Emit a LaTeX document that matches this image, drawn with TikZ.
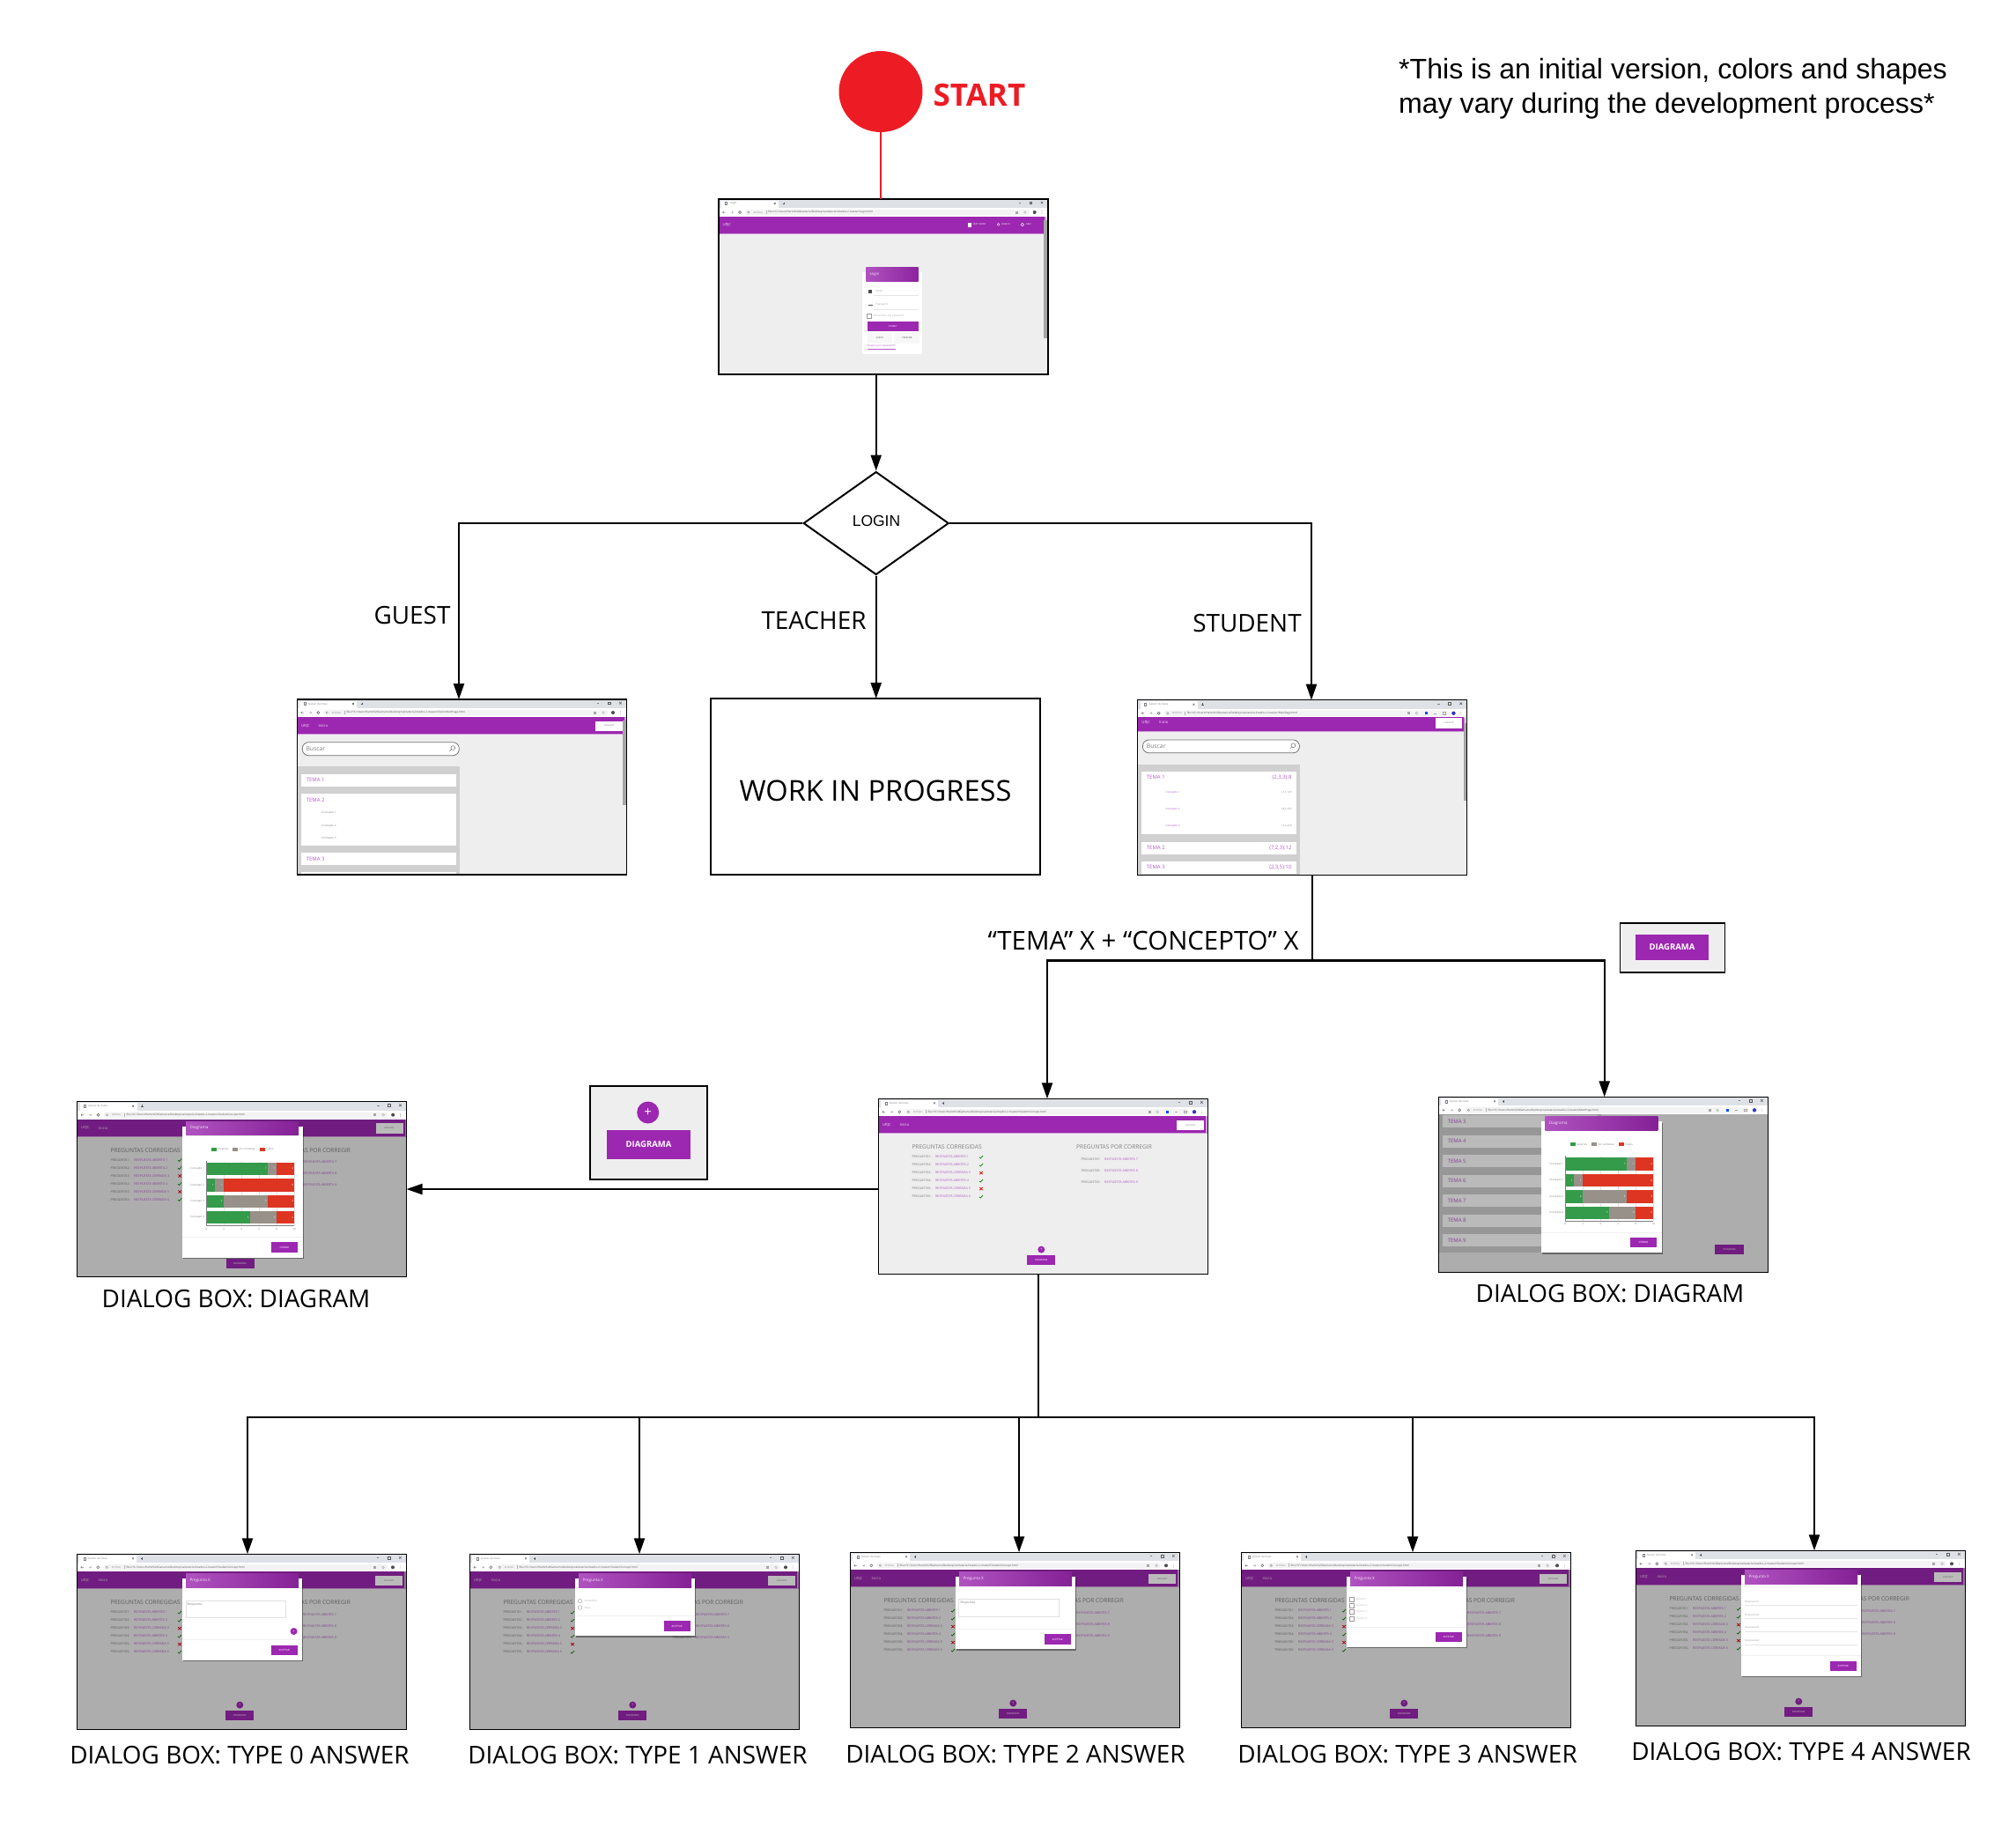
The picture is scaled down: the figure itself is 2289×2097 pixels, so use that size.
\documentclass[tikz,border=0pt]{standalone}
\usepackage{fontspec}
\setmainfont{Liberation Sans}
\newfontfamily\uifont{Open Sans}
\usetikzlibrary{arrows.meta,shapes.geometric,calc}
\definecolor{pur}{HTML}{9C27B0}
\definecolor{purL}{HTML}{B25CC4}
\definecolor{tabc}{HTML}{DEE1E6}
\definecolor{bodyc}{HTML}{EEEEEE}
\definecolor{panelc}{HTML}{D0D0D0}
\definecolor{uigray}{HTML}{808080}
\definecolor{barG}{HTML}{339B4A}
\definecolor{barS}{HTML}{979189}
\definecolor{barR}{HTML}{DD3522}
\definecolor{startred}{HTML}{ED1C24}
\newcount\txn
\newcommand\fsz[1]{\fontsize{#1}{#1}\selectfont}
% x, y, anchor, size, colour, text
\newcommand\tx[6]{\global\advance\txn by 1\relax
  \node[inner sep=0pt,anchor=#3,text=#5,font=\uifont\fsz{#4}] (tx\the\txn) at (#1,#2) {#6};}
\newcommand\scr[4]{\begin{scope}[shift={(#2,#3)}]#4
  \node[screenbox] (#1) at (187,99.5) {};\end{scope}}
\newcommand\chromeicons{%
  \fill[gray!70] (336.5,13.5) rectangle (339.5,16.5);
  \draw[gray!70,line width=.4pt] (347.7,15) circle (1.4);
  \fill[black!70] (358.7,15) circle (2);
  \fill[gray] (367,13.5) circle (.3) (367,15) circle (.3) (367,16.5) circle (.3);}
\newcommand\chromeext{%
  \fill[gray!70] (306.2,13.5) rectangle (309.2,16.5);
  \draw[gray!70,line width=.4pt] (316.7,15) circle (1.4);
  \fill[blue!70!cyan] (326.5,13.5) rectangle (329.5,16.5);
  \draw[gray!70,line width=.4pt] (336.5,15) -- (339.5,15);
  \draw[gray!70,line width=.4pt] (346.5,13.7) rectangle (349.5,16.3);
  \fill[blue!60!gray] (358.7,15) circle (2.2);
  \fill[gray] (367,13.5) circle (.3) (367,15) circle (.3) (367,16.5) circle (.3);}
% title, url file, icons
\newcommand\chrome[3]{%
  \fill[white] (0,0) rectangle (374,20);
  \fill[tabc] (0,0) rectangle (374,10);
  \fill[white] (3,1.5) rectangle (68,10);
  \draw[gray,line width=.4pt] (7.5,3.5) rectangle (9.5,6.5);
  \tx{12.7}{5}{west}{3}{gray}{#1}
  \draw[gray!70!black,line width=.4pt] (62.7,4) -- (64.7,6) (62.7,6) -- (64.7,4);
  \draw[gray!70!black,line width=.4pt] (72.5,5) -- (75,5) (73.7,3.7) -- (73.7,6.3);
  \draw[gray,line width=.4pt] (340.5,4) -- (343,4);
  \draw[gray!70!black,line width=.5pt] (353,3) rectangle (355.5,5.5);
  \draw[gray!70!black,line width=.5pt] (365.7,2.8) -- (368.3,5.4) (365.7,5.4) -- (368.3,2.8);
  \fill[bodyc!70!white,rounded corners=3pt] (30,11.8) rectangle (352.7,18.4);
  \draw[gray,line width=.5pt] (4.5,15) -- (7.5,15) (4.5,15) -- (5.8,13.8) (4.5,15) -- (5.8,16.2);
  \draw[gray!60,line width=.5pt] (13.5,15) -- (16.5,15) (16.5,15) -- (15.2,13.8) (16.5,15) -- (15.2,16.2);
  \draw[gray!70!black,line width=.5pt] (24,15) circle (1.5);
  \draw[gray,line width=.3pt] (34,15) circle (1.2);
  \tx{39.3}{15}{west}{3}{gray!90}{Archivo}
  \draw[gray!60,line width=.3pt] (53.7,13) -- (53.7,17);
  \tx{56}{15}{west}{3.05}{black!65}{file:///C:/Users/Haritz\%20Gamarra/Desktop/santatecla-listados-2-master/#2}
  #3}
\newcommand\navbar{%
  \fill[pur!45] (0,20) rectangle (374,40);
  \fill[pur] (0,20) rectangle (372,39);
  \fill[white] (339,24.5) rectangle (370,36);
  \tx{4.5}{30}{west}{4.3}{white!85!pur}{URJC}
  \tx{24}{30}{west}{4.3}{white!85!pur}{Inicio}
  \tx{354.5}{30}{center}{2.6}{black!55}{LOG OUT}}
\newcommand\chk[2]{\draw[green!50!black,line width=.7pt] (#1-2,#2+.2) -- (#1-.7,#2+1.4) -- (#1+2,#2-1.6);}
\newcommand\crs[2]{\draw[red!85!black,line width=.7pt] (#1-1.8,#2-1.6) -- (#1+1.8,#2+1.6) (#1-1.8,#2+1.6) -- (#1+1.8,#2-1.6);}
\newcommand\qrow[5]{\tx{38}{#1}{west}{3.7}{uigray}{PREGUNTA#2:}
  \tx{64.7}{#1}{west}{3.7}{purL}{RESPUESTA #3}
  #4{116.7}{#1}}
\newcommand\prow[3]{\tx{230}{#1}{west}{3.7}{uigray}{PREGUNTA#2:}
  \tx{256.7}{#1}{west}{3.7}{purL}{RESPUESTA ABIERTA #3}}
\newcommand\conceptbody{%
  \fill[bodyc] (0,20) rectangle (374,199);
  \navbar
  \tx{38}{55}{west}{6.6}{uigray}{PREGUNTAS CORREGIDAS}
  \qrow{66.3}{1}{ABIERTA 1}{\chk}{}
  \qrow{75.3}{2}{ABIERTA 2}{\chk}{}
  \qrow{84.3}{3}{CERRADA 3}{\crs}{}
  \qrow{93.3}{4}{ABIERTA 4}{\chk}{}
  \qrow{102.3}{5}{CERRADA 5}{\crs}{}
  \qrow{111.3}{5}{CERRADA 6}{\chk}{}
  \tx{224.7}{55}{west}{6.6}{uigray}{PREGUNTAS POR CORREGIR}
  \prow{68.7}{7}{7}
  \prow{81.7}{8}{8}
  \prow{94.7}{9}{9}
  \fill[pur] (185,171.3) circle (4);
  \tx{185}{171.3}{center}{4}{white}{+}
  \fill[pur] (169,178) rectangle (201,189);
  \tx{185}{183.5}{center}{2.8}{white}{DIAGRAMA}}
\newcommand\dimmer{\fill[black,opacity=.27] (0,20) rectangle (374,199);}
% card bottom, title
\newcommand\dlg[2]{%
  \fill[black,opacity=.4] (120.3,30) rectangle (257,#1+1.3);
  \fill[white] (119.3,28) rectangle (256,#1);
  \fill[black!10] (124.2,38) rectangle (251.7,38.8);
  \shade[left color=pur!80,right color=pur!85!black] (123.7,22.5) rectangle (251.7,38);
  \tx{128}{30}{west}{4.6}{white!90!pur}{#2}}
% sep y, button top, label
\newcommand\dlgfoot[3]{%
  \draw[black!6,line width=.5pt] (119.3,#1) -- (256,#1);
  \fill[pur] (220.3,#2) rectangle (250.5,#2+11.3);
  \tx{235.4}{#2+5.7}{center}{2.9}{white}{#3}}
\newcommand\plotbars[5]{%
  \fill[barG] (146.7,#1) rectangle ++(#2*10,14.3);
  \fill[barS] (146.7+#2*10,#1) rectangle ++(#3*10,14.3);
  \fill[barR] (146.7+#2*10+#3*10,#1) rectangle ++(#4*10,14.3);
  \tx{144.7}{#1+7}{east}{3}{uigray}{Concepto #5}
  \tx{146.7+#2*10-1.5}{#1+7}{east}{3}{white}{#2}
  \tx{146.7+#2*10+#3*10-1.5}{#1+7}{east}{3}{white}{#3}
  \tx{245.7}{#1+7}{east}{3}{white}{#4}}
\newcommand\diagramdlg{%
  \dlg{177}{Diagrama}
  \fill[barG] (152,52) rectangle (158.7,56);
  \tx{160}{54}{west}{3}{uigray}{Aciertos}
  \fill[barS] (176,52) rectangle (182.7,56);
  \tx{184}{54}{west}{3}{uigray}{Sin contestar}
  \fill[barR] (207,52) rectangle (213.7,56);
  \tx{215}{54}{west}{3}{uigray}{Fallos}
  \draw[black!12,line width=.3pt] (166.7,68) -- (166.7,140.7) (186.7,68) -- (186.7,140.7) (206.7,68) -- (206.7,140.7) (226.7,68) -- (226.7,140.7) (246.7,68) -- (246.7,140.7);
  \plotbars{69}{7}{1}{2}{1}
  \plotbars{87.7}{1}{1}{8}{2}
  \plotbars{106}{2}{5}{3}{3}
  \plotbars{124.3}{5}{3}{2}{4}
  \draw[black!50,line width=.3pt] (146.7,67) -- (146.7,140.7) -- (246.7,140.7);
  \tx{146.7}{144.3}{center}{3}{uigray}{0}
  \tx{166.7}{144.3}{center}{3}{uigray}{2}
  \tx{186.7}{144.3}{center}{3}{uigray}{4}
  \tx{206.7}{144.3}{center}{3}{uigray}{6}
  \tx{226.7}{144.3}{center}{3}{uigray}{8}
  \tx{246.7}{144.3}{center}{3}{uigray}{10}
  \dlgfoot{153.7}{159.7}{CERRAR}}
\newcommand\temarow[3]{%
  \fill[white] (4.7,#1) rectangle (180.7,#1+#2);
  \tx{10.3}{#1+7}{west}{6}{purL}{#3}}
\tikzset{
  x=1pt,y=-1pt,
  screenbox/.style={draw=black,line width=1.5pt,minimum width=374pt,minimum height=199pt,inner sep=0pt,outer sep=0pt},
  flowlabel/.style={font=\uifont\fsz{27.9},text=black,inner sep=0pt},
  notelabel/.style={font=\fsz{32.1},text=black,inner sep=0pt,align=left,anchor=north west},
  conn/.style={draw=black,line width=2.2pt},
  arr/.style={conn,-{Triangle[length=18pt,width=12pt]}},
  smallbtn/.style={fill=pur,draw=none,inner sep=0pt,text=white,font=\uifont\bfseries\fsz{9.5}},
  framebox/.style={draw=black,line width=1.3pt,fill=bodyc,inner sep=0pt,outer sep=0pt},
}
\begin{document}
\begin{tikzpicture}
\useasboundingbox (0,0) rectangle (2289,2097);
\fill[white] (0,0) rectangle (2289,2097);

% start
\node[ellipse,fill=startred,minimum width=95pt,minimum height=92pt,inner sep=0pt] (start) at (1000,104) {};
\node[font=\uifont\bfseries\fsz{35},text=startred,inner sep=0pt] (starttxt) at (1112,108) {START};
\node[notelabel] (note) at (1588,66) {*This is an initial version, colors and shapes\\[7pt]may vary during the development process*};

% LOGIN screen
\scr{login}{816}{226}{
  \fill[bodyc] (0,0) rectangle (374,199);
  \chrome{Login}{Login.html}{\chromeicons}
  \fill[pur!45] (0,20) rectangle (372,39.5);
  \fill[pur] (0,19.5) rectangle (370,38.7);
  \tx{4.3}{29}{west}{4.3}{white!85!pur}{URJC}
  \fill[white] (282.5,27) rectangle (286.5,31.5);
  \tx{288.3}{29}{west}{2.6}{white}{NEXT EVENT}
  \draw[white,line width=.4pt] (317.7,28.8) circle (1.4);
  \tx{321}{29}{west}{2.6}{white}{SEARCH}
  \draw[white,line width=.4pt] (344.7,29) circle (1.8);
  \tx{348.7}{29}{west}{2.6}{white}{HELP}
  \fill[black!35] (369.3,24) rectangle (373,158);
  \fill[white] (163,83) rectangle (231.3,175.7);
  \shade[left color=pur!80,right color=pur!90!black] (167.3,77.3) rectangle (226.7,93);
  \tx{171.3}{85}{west}{4.3}{white!90!pur}{Login}
  \fill[black!70] (170.3,103) rectangle (174,106.5);
  \tx{178.3}{104}{west}{3}{black!35}{Email}
  \draw[black!10,line width=.4pt] (176,108.7) -- (226.7,108.7);
  \fill[black!70] (169.5,119.5) rectangle (175,121);
  \tx{178.3}{119.7}{west}{3}{black!35}{Password}
  \draw[black!10,line width=.4pt] (176,124.7) -- (226.7,124.7);
  \draw[black!40,line width=.4pt] (168,129.7) rectangle (173.3,135);
  \tx{175.3}{132.5}{west}{3}{black!30}{Remember my password}
  \fill[pur] (168.7,138.7) rectangle (226.7,150.3);
  \tx{197.7}{144.5}{center}{2.6}{white}{SUBMIT}
  \fill[black!3] (168.7,152) rectangle (197,164);
  \fill[black!3] (199,152) rectangle (228,164);
  \tx{183}{158}{center}{2.6}{black!70}{GUEST}
  \tx{214}{158}{center}{2.6}{black!70}{TEACHER}
  \tx{168.7}{168}{west}{3}{purL}{\underline{Forgot your password?}}
}

% GUEST screen
\scr{guest}{337.3}{794}{
  \fill[bodyc] (0,0) rectangle (374,199);
  \chrome{Gestor de listas}{VisitorMainPage.html}{\chromeicons}
  \navbar
  \fill[black!35] (370,24) rectangle (374,120);
  \draw[fill=white,draw=black!55,line width=.8pt,rounded corners=7pt] (6,48.7) rectangle (184,63.7);
  \tx{10}{56.2}{west}{6.8}{uigray}{Buscar}
  \draw[black!60,line width=.5pt] (177,55) circle (2.4) (175.3,56.7) -- (173.3,58.7);
  \fill[panelc] (0,76.3) rectangle (185,199);
  \temarow{84.7}{14.6}{TEMA 1}
  \temarow{107.3}{58.7}{TEMA 2}
  \tx{27.7}{128.7}{west}{3.1}{uigray}{Concepto 1}
  \tx{27.7}{143.3}{west}{3.1}{uigray}{Concepto 2}
  \tx{27.7}{158}{west}{3.1}{uigray}{Concepto 3}
  \temarow{174}{14.3}{TEMA 3}
  \fill[white] (4.7,196.3) rectangle (180.7,198.6);
}

% WORK IN PROGRESS
\node[screenbox,minimum width=374pt,minimum height=200pt] (wip) at (994,893) {};
\node[font=\uifont\fsz{32.6},inner sep=0pt] (wiptxt) at (994,898) {WORK IN PROGRESS};

% STUDENT screen
\scr{student}{1291.7}{794.7}{
  \fill[bodyc] (0,0) rectangle (374,199);
  \chrome{Gestor de listas}{MainPage.html}{\chromeext}
  \fill[pur!45] (0,20) rectangle (372,36);
  \fill[pur] (0,19.3) rectangle (370,35.3);
  \fill[white] (338.7,20) rectangle (368.3,32);
  \tx{4.5}{25.7}{west}{4.3}{white!85!pur}{URJC}
  \tx{24}{25.7}{west}{4.3}{white!85!pur}{Inicio}
  \tx{353.5}{26}{center}{2.6}{black!55}{LOG OUT}
  \fill[black!35] (370,26) rectangle (374,114);
  \draw[fill=white,draw=black!55,line width=.8pt,rounded corners=7pt] (5.7,45.3) rectangle (183.7,60);
  \tx{10}{52.7}{west}{6.8}{uigray}{Buscar}
  \draw[black!60,line width=.5pt] (176.7,51.5) circle (2.4) (175,53.2) -- (173,55.2);
  \fill[panelc] (0,73.3) rectangle (184.7,199);
  \fill[white] (4.3,81.3) rectangle (180.3,152.3);
  \tx{10}{87.7}{west}{6}{purL}{TEMA 1}
  \tx{175}{87.7}{east}{6}{purL}{(2,3,3):8}
  \tx{31.7}{104.7}{west}{3}{purL}{Concepto 1}
  \tx{175}{104.7}{east}{3}{uigray}{(1,1,1):3}
  \tx{31.7}{123.7}{west}{3}{purL}{Concepto 2}
  \tx{175}{123.7}{east}{3}{uigray}{(0,1,2):3}
  \tx{31.7}{142.7}{west}{3}{purL}{Concepto 3}
  \tx{175}{142.7}{east}{3}{uigray}{(1,1,2):4}
  \fill[white] (4.3,161) rectangle (180.3,175);
  \tx{10}{168}{west}{6}{purL}{TEMA 2}
  \tx{175}{168}{east}{6}{purL}{(7,2,3):12}
  \fill[white] (4.3,183) rectangle (180.3,197.3);
  \tx{10}{190}{west}{6}{purL}{TEMA 3}
  \tx{175}{190}{east}{6}{purL}{(2,3,5):10}
}

% DIAGRAMA key (upper)
\node[framebox,minimum width=119pt,minimum height=56pt] (keyupper) at (1899,1076) {};
\node[smallbtn,minimum width=83pt,minimum height=29pt] (keyupperbtn) at (1898.5,1075.5) {DIAGRAMA};

% CONCEPT key
\node[framebox,minimum width=133pt,minimum height=106pt] (keylower) at (736.5,1286) {};
\node[circle,fill=pur,minimum size=25pt,inner sep=0pt,text=white,font=\uifont\fsz{15}] (keypl) at (735.7,1263) {+};
\node[smallbtn,minimum width=95pt,minimum height=33pt] (keylowerbtn) at (736.5,1299.5) {DIAGRAMA};

% CONCEPT screen
\scr{concept}{997.3}{1247.3}{
  \chrome{Gestor de listas}{StudentConcept.html}{\chromeext}
  \conceptbody
}

% left DIALOG: diagram
\scr{dlgleft}{87.5}{1250.7}{
  \chrome{Gestor de listas}{StudentConcept.html}{\chromeicons}
  \conceptbody
  \dimmer
  \diagramdlg
}

% right DIALOG: diagram
\scr{dlgright}{1633.3}{1245.3}{
  \chrome{Gestor de listas}{MainPage.html}{\chromeext}
  \fill[bodyc] (0,20) rectangle (374,199);
  \fill[panelc] (0,20) rectangle (185,177);
  \temarow{21}{14}{TEMA 3}
  \temarow{43.5}{14}{TEMA 4}
  \temarow{66}{14}{TEMA 5}
  \temarow{88.5}{14}{TEMA 6}
  \temarow{111}{14}{TEMA 7}
  \temarow{133.5}{14}{TEMA 8}
  \temarow{156}{14}{TEMA 9}
  \fill[pur] (314,168) rectangle (347,179);
  \tx{330.5}{173.5}{center}{2.8}{white}{DIAGRAMA}
  \dimmer
  \begin{scope}[shift={(-2.7,0)}]
  \diagramdlg
  \end{scope}
}

% answer types
\scr{typezero}{87.3}{1764.3}{
  \chrome{Gestor de listas}{StudentConcept.html}{\chromeicons}
  \conceptbody
  \dimmer
  \dlg{120.7}{Pregunta X}
  \draw[fill=white,draw=black!12,line width=.5pt] (123.7,53) rectangle (237,72.3);
  \tx{125}{57}{west}{3.5}{uigray}{Respuesta}
  \fill[pur] (246.3,87.7) circle (4);
  \tx{246.3}{87.7}{center}{4}{white}{+}
  \dlgfoot{97}{103.3}{ACEPTAR}
}
\scr{typeone}{533.3}{1764.3}{
  \chrome{Gestor de listas}{StudentConcept.html}{\chromeicons}
  \conceptbody
  \dimmer
  \dlg{93}{Pregunta X}
  \draw[black!40,line width=.4pt] (125.3,53.3) circle (2.3) (125.3,60.7) circle (2.3);
  \tx{130}{53.3}{west}{3}{black!30}{Verdadero}
  \tx{130}{60.7}{west}{3}{black!30}{Falso}
  \dlgfoot{70}{76}{ACEPTAR}
}
\scr{typetwo}{965.3}{1762.3}{
  \chrome{Gestor de listas}{StudentConcept.html}{\chromeicons}
  \conceptbody
  \dimmer
  \dlg{110}{Pregunta X}
  \draw[fill=white,draw=black!12,line width=.5pt] (123.3,53) rectangle (237,73);
  \tx{125}{57}{west}{3.5}{uigray}{Respuesta}
  \dlgfoot{87}{93}{ACEPTAR}
}
\scr{typethree}{1409.3}{1762.3}{
  \chrome{Gestor de listas}{StudentConcept.html}{\chromeicons}
  \conceptbody
  \dimmer
  \dlg{107.7}{Pregunta X}
  \draw[black!40,line width=.4pt] (123.3,50.5) rectangle (128.3,55.5);
  \draw[black!40,line width=.4pt] (123.3,57.8) rectangle (128.3,62.8);
  \draw[black!40,line width=.4pt] (123.3,65.2) rectangle (128.3,70.2);
  \draw[black!40,line width=.4pt] (123.3,72.5) rectangle (128.3,77.5);
  \tx{130.7}{53}{west}{2.8}{black!30}{Opción 1}
  \tx{130.7}{60.3}{west}{2.8}{black!30}{Opción 2}
  \tx{130.7}{67.7}{west}{2.8}{black!30}{Opción 3}
  \tx{130.7}{75}{west}{2.8}{black!30}{Opción 4}
  \dlgfoot{85}{90.7}{ACEPTAR}
}
\scr{typefour}{1857.3}{1760.3}{
  \chrome{Gestor de listas}{StudentConcept.html}{\chromeicons}
  \conceptbody
  \dimmer
  \dlg{142.3}{Pregunta X}
  \tx{123.7}{58}{west}{3}{black!35}{Respuesta1}
  \draw[black!10,line width=.5pt] (123.7,62) -- (251.3,62);
  \tx{123.7}{73}{west}{3}{black!35}{Respuesta2}
  \draw[black!10,line width=.5pt] (123.7,77) -- (251.3,77);
  \tx{123.7}{87.7}{west}{3}{black!35}{Respuesta3}
  \draw[black!10,line width=.5pt] (123.7,92) -- (251.3,92);
  \tx{123.7}{102.3}{west}{3}{black!35}{Respuesta4}
  \draw[black!10,line width=.5pt] (123.7,107) -- (251.3,107);
  \dlgfoot{119}{125.3}{ACEPTAR}
}

% decision
\node[diamond,draw=black,line width=2pt,fill=white,minimum width=165pt,minimum height=117pt,inner sep=0pt] (decision) at (994.7,594) {};
\node[font=\fsz{17.5},inner sep=0pt] (decisiontxt) at (995,591) {LOGIN};

% labels
\node[flowlabel] (lguest) at (468,699) {GUEST};
\node[flowlabel] (lteacher) at (924,705) {TEACHER};
\node[flowlabel] (lstudent) at (1416,708) {STUDENT};
\node[flowlabel,font=\uifont\fsz{29.4}] (ltema) at (1298,1068) {“TEMA” X + “CONCEPTO” X};
\node[flowlabel] (ld1) at (268,1475) {DIALOG BOX: DIAGRAM};
\node[flowlabel] (ld2) at (1828,1469) {DIALOG BOX: DIAGRAM};
\node[flowlabel] (ld3) at (272,1993) {DIALOG BOX: TYPE 0 ANSWER};
\node[flowlabel] (ld4) at (724,1993) {DIALOG BOX: TYPE 1 ANSWER};
\node[flowlabel] (ld5) at (1153,1992) {DIALOG BOX: TYPE 2 ANSWER};
\node[flowlabel] (ld6) at (1598,1992) {DIALOG BOX: TYPE 3 ANSWER};
\node[flowlabel] (ld7) at (2045,1989) {DIALOG BOX: TYPE 4 ANSWER};

% connectors
\draw[draw=startred,line width=1.6pt] (start.south) -- (start.south |- login.north);
\draw[arr] (login.south -| decision.north) -- (decision.north);
\draw[arr] (decision.west) -| ([xshift=-3.3pt]guest.north);
\draw[arr] (decision.south) -- (decision.south |- wip.north);
\draw[arr] (decision.east) -| ([xshift=10.3pt]student.north);
\coordinate (jtema) at (1490,1090.5);
\coordinate (jq) at (1179,1609);
\draw[conn] (student.south -| jtema) -- (jtema);
\draw[arr] (jtema) -| ([xshift=4.7pt]concept.north);
\draw[arr] (jtema) -| ([xshift=1.4pt]dlgright.north);
\coordinate (cw) at ([yshift=-3.2pt]concept.west);
\draw[arr] (cw) -- (cw -| dlgleft.east);
\draw[conn] (concept.south -| jq) -- (jq);
\draw[arr] (jq) -| ([xshift=6.7pt]typezero.north);
\draw[arr] (jq) -| ([xshift=5.7pt]typeone.north);
\draw[arr] (jq) -| ([xshift=4.7pt]typetwo.north);
\draw[arr] (jq) -| ([xshift=7.7pt]typethree.north);
\draw[arr] (jq) -| ([xshift=15.7pt]typefour.north);
\end{tikzpicture}
\end{document}
